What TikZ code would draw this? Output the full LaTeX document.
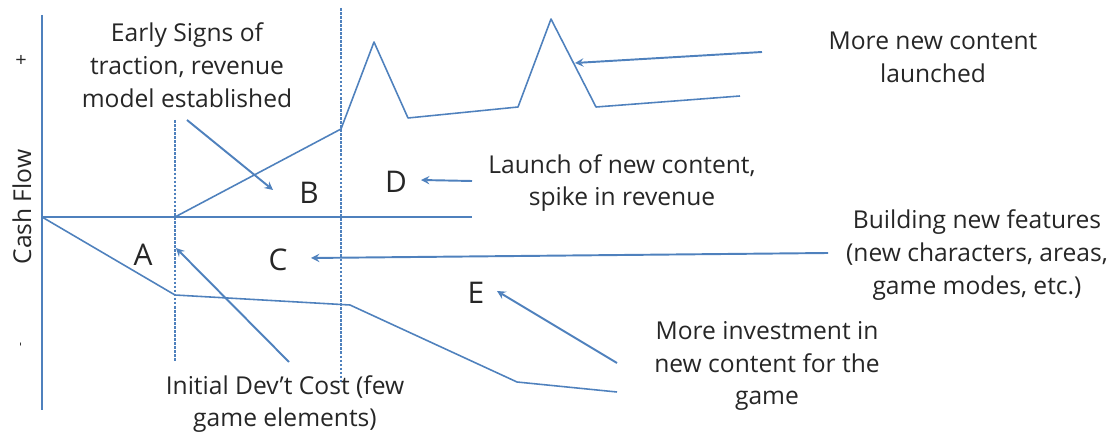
\documentclass[tikz,border=0pt]{standalone}
\usepackage{fontspec}
\setmainfont{Open Sans}
\usetikzlibrary{arrows}
\definecolor{flowblue}{RGB}{79,129,189}

\begin{document}
\begin{tikzpicture}[x=0.02cm, y=-0.02cm, >=stealth,
  flow/.style={draw=flowblue, line width=0.9pt, line join=round},
  axis line/.style={draw=flowblue, line width=0.8pt},
  phase line/.style={draw=flowblue, line width=0.7pt, dash pattern=on 1.5pt off 0.8pt},
  pointer/.style={->, draw=flowblue, line width=1.1pt},
  label node/.style={align=center, font=\fontsize{14}{18.7}\selectfont, text=black!85, inner sep=0pt},
  letter node/.style={font=\fontsize{17}{20}\selectfont, text=black!85, inner sep=0pt}]
\useasboundingbox (0,0) rectangle (1116,435);

% axes and phase borders
\coordinate (origin) at (42,217);
\coordinate (ytop) at (42,15);
\coordinate (ybot) at (42,410);
\coordinate (xend) at (472,217);
\coordinate (launch top) at (175,120);
\coordinate (launch bot) at (175,362);
\coordinate (content top) at (341,8);
\coordinate (content bot) at (341,382);
\draw[axis line] (ytop) -- (ybot);
\draw[axis line] (origin) -- (xend);
\draw[phase line] (launch top) -- (launch bot);
\draw[phase line] (content top) -- (content bot);

\node[label node, rotate=90] (cashflow) at (22,207) {Cash Flow};
\node[label node, rotate=90, font=\fontsize{11}{12}\selectfont] (plus) at (22,60) {+};
\node[label node, rotate=90, font=\fontsize{7}{8}\selectfont] (minus) at (22,345) {-};

% revenue curve
\coordinate (r0) at (175,217);
\coordinate (r1) at (341,129);
\coordinate (r2) at (374,42);
\coordinate (r3) at (408,118);
\coordinate (r4) at (518,107);
\coordinate (r5) at (551,19);
\coordinate (r6) at (596,107);
\coordinate (r7) at (740,96);
\draw[flow] (r0) -- (r1) -- (r2) -- (r3) -- (r4) -- (r5) -- (r6) -- (r7);

% cost curve
\coordinate (c1) at (175,295);
\coordinate (c2) at (350,305);
\coordinate (c3) at (517,382);
\coordinate (c4) at (617,392);
\draw[flow] (origin) -- (c1) -- (c2) -- (c3) -- (c4);

% phase letters
\node[letter node] (A) at (143,255) {A};
\node[letter node] (B) at (309,193) {B};
\node[letter node] (C) at (278,260) {C};
\node[letter node] (D) at (396,182) {D};
\node[letter node] (E) at (476,293) {E};

% labels
\node[label node] (signs) at (187,65) {Early Signs of\\traction, revenue\\model established};
\node[label node] (launch) at (622,183) {Launch of new content,\\spike in revenue};
\node[label node] (more) at (933,57) {More new content\\launched};
\node[label node] (features) at (977,255) {Building new features\\(new characters, areas,\\game modes, etc.)};
\node[label node] (invest) at (767,366) {More investment in\\new content for the\\game};
\node[label node] (initial) at (285,404) {Initial Dev’t Cost (few\\game elements)};

% pointers
\coordinate (signs tail) at (187,120);
\coordinate (signs tip) at (273,190);
\coordinate (launch tail) at (472,181);
\coordinate (launch tip) at (421,180);
\coordinate (more tail) at (762,52);
\coordinate (more tip) at (575,63);
\coordinate (features tail) at (828,253);
\coordinate (features tip) at (311,258);
\coordinate (initial tail) at (289,362);
\coordinate (initial tip) at (176,248);
\coordinate (invest tail) at (617,363);
\coordinate (invest tip) at (497,291);
\draw[pointer] (signs tail) -- (signs tip);
\draw[pointer] (launch tail) -- (launch tip);
\draw[pointer] (more tail) -- (more tip);
\draw[pointer] (features tail) -- (features tip);
\draw[pointer] (initial tail) -- (initial tip);
\draw[pointer] (invest tail) -- (invest tip);
\end{tikzpicture}
\end{document}
